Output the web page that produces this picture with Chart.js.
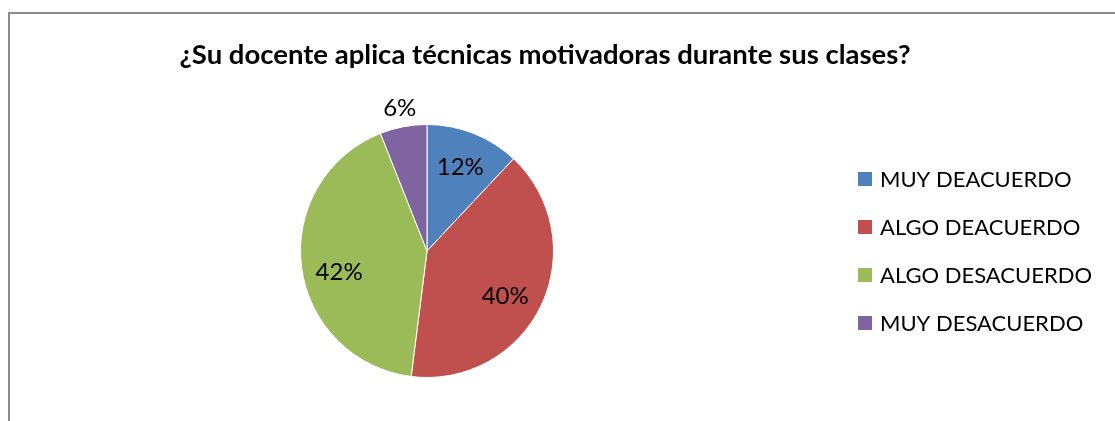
<!DOCTYPE html>
<html>
<head>
<meta charset="utf-8">
<script src="https://cdn.jsdelivr.net/npm/chart.js@4.4.0/dist/chart.umd.min.js"></script>
<style>
  html, body { margin: 0; padding: 0; background: #fff; }
  #wrap { position: absolute; left: 0; top: 0; width: 1115px; height: 421px; }
  #frame { position: absolute; left: 8px; top: 12px; right: -2px; bottom: -2px;
           border-left: 2px solid #8c8c8c; border-top: 2px solid #8c8c8c; }
</style>
</head>
<body>
<div id="wrap">
  <div id="frame"></div>
  <canvas id="pie" width="1115" height="421"></canvas>
</div>
<script>
// chart text
const chartTitle = "¿Su docente aplica técnicas motivadoras durante sus clases?";
// categories
const labels = ["MUY DEACUERDO", "ALGO DEACUERDO", "ALGO DESACUERDO", "MUY DESACUERDO"];
// percentages for each slice
const values = [12, 40, 42, 6];
// slice colors
const colors = ["#4f81bd", "#c0504d", "#9bbb59", "#8064a2"];

const fontFamily = "Lato, 'Open Sans', sans-serif";
// label nudges (degrees) so they sit like the excel ones
const labelShift = [0, 5, -6.5, 0];

//draws title, legend and the % labels on the slices
const textPlugin = {
  id: "textPlugin",
  afterDraw(chart) {
    const ctx = chart.ctx;
    ctx.save();
    ctx.fillStyle = "#000";
    // title
    ctx.font = "bold 27.5px " + fontFamily;
    ctx.textAlign = "center";
    ctx.textBaseline = "middle";
    ctx.fillText(chartTitle, 545, 55);

    // slice labels
    ctx.font = "24px " + fontFamily;
    const meta = chart.getDatasetMeta(0);
    meta.data.forEach((arc, i) => {
      const mid = (arc.startAngle + arc.endAngle) / 2 + labelShift[i] * Math.PI / 180;
      // small slices get their label outside
      const f = values[i] < 10 ? 1.15 : 0.715;
      const x = arc.x + Math.cos(mid) * arc.outerRadius * f;
      const y = arc.y + Math.sin(mid) * arc.outerRadius * f;
      ctx.fillText(values[i] + "%", x, y);
    });

    // legend
    ctx.textAlign = "left";
    ctx.font = "22px " + fontFamily;
    labels.forEach((lab, i) => {
      const y = 179 + i * 48;
      ctx.fillStyle = colors[i];
      ctx.fillRect(858, y - 7, 14, 14);
      ctx.fillStyle = "#000";
      ctx.fillText(lab, 880, y + 1);
    });
    ctx.restore();
  },
};

let myChart = new Chart(document.getElementById("pie"), {
  type: "pie",
  plugins: [textPlugin],
  data: {
    labels: labels,
    datasets: [
      {
        data: values,
        backgroundColor: colors,
        borderColor: "#ffffff",
        borderWidth: 1,
      },
    ],
  },
  options: {
    responsive: false,
    animation: false,
    layout: {
      padding: { left: 300, right: 561, top: 124, bottom: 43 },
    },
    plugins: {
      legend: { display: false },
      title: { display: false },
      tooltip: { enabled: false },
    },
  },
});
</script>
</body>
</html>
